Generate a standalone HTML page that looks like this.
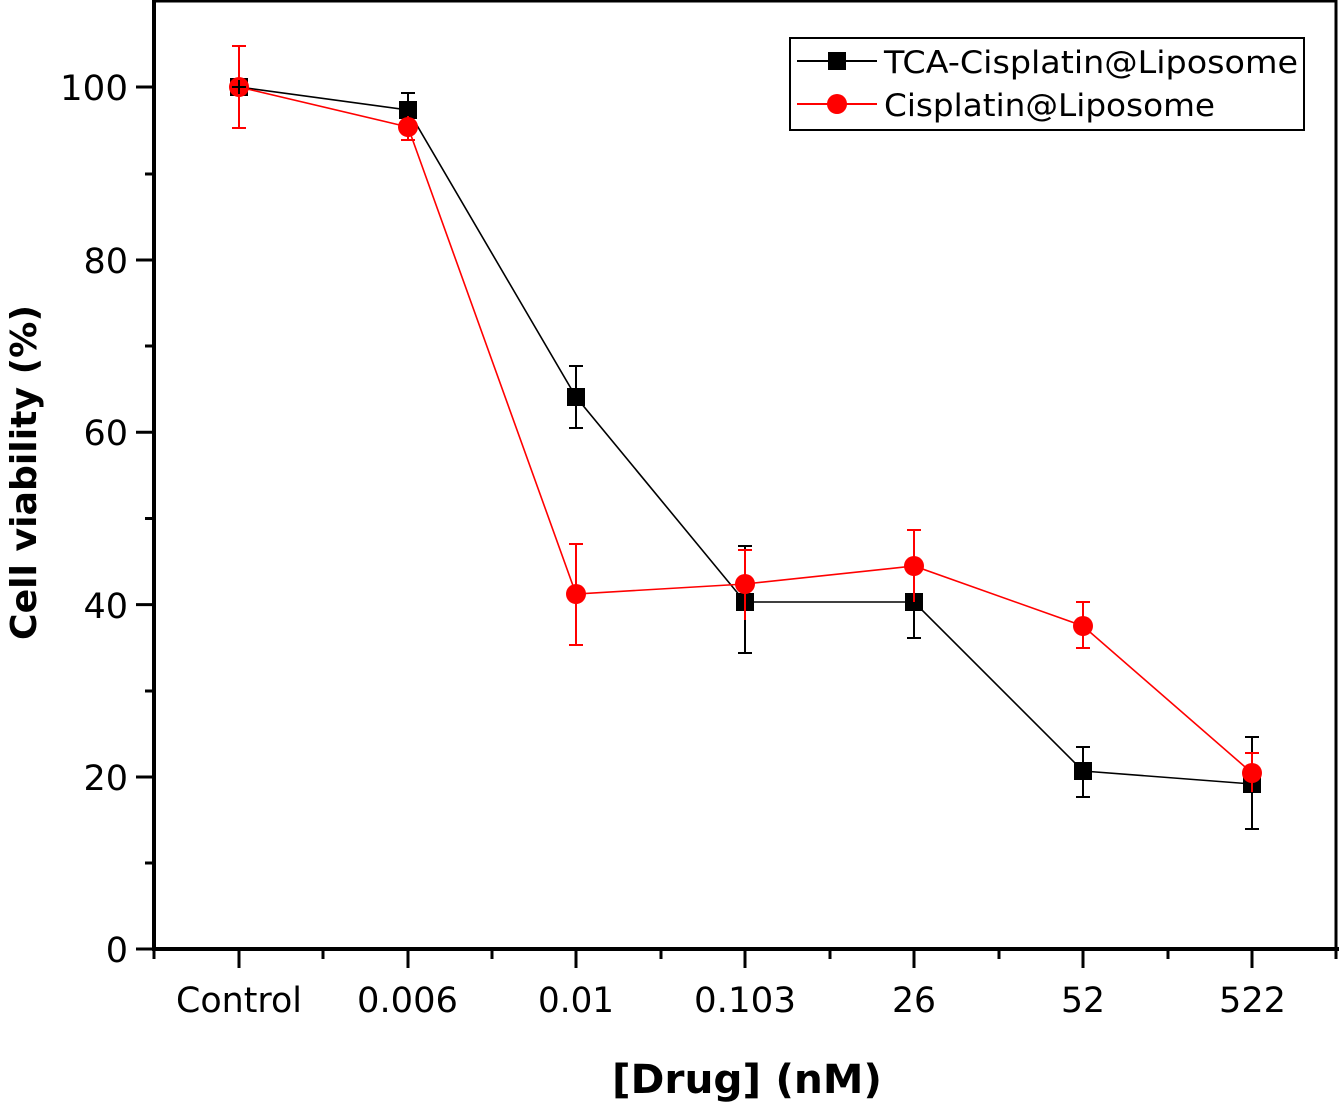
<!DOCTYPE html>
<html><head><meta charset="utf-8"><style>
html,body{margin:0;padding:0;background:#fff;}
svg{display:block;font-family:"DejaVu Sans","Liberation Sans",sans-serif;}
</style></head><body>
<svg width="1339" height="1103" viewBox="0 0 1339 1103" xmlns="http://www.w3.org/2000/svg">
<rect width="1339" height="1103" fill="#fff"/>
<path d="M154,1 H1336 V949" fill="none" stroke="#000" stroke-width="3"/>
<path d="M154,0 V949 H1339" fill="none" stroke="#000" stroke-width="4"/>
<g stroke="#000" stroke-width="3">
<line x1="136" y1="949" x2="154" y2="949"/><line x1="136" y1="777" x2="154" y2="777"/><line x1="136" y1="604.6" x2="154" y2="604.6"/><line x1="136" y1="432.3" x2="154" y2="432.3"/><line x1="136" y1="260" x2="154" y2="260"/><line x1="136" y1="87" x2="154" y2="87"/>
<line x1="145" y1="863" x2="154" y2="863"/><line x1="145" y1="691" x2="154" y2="691"/><line x1="145" y1="518.5" x2="154" y2="518.5"/><line x1="145" y1="346" x2="154" y2="346"/><line x1="145" y1="174" x2="154" y2="174"/>
<line x1="154" y1="949" x2="154" y2="959"/>
<line x1="239" y1="949" x2="239" y2="968"/><line x1="323" y1="949" x2="323" y2="959"/>
<line x1="408" y1="949" x2="408" y2="968"/><line x1="492" y1="949" x2="492" y2="959"/>
<line x1="576" y1="949" x2="576" y2="968"/><line x1="661" y1="949" x2="661" y2="959"/>
<line x1="745" y1="949" x2="745" y2="968"/><line x1="830" y1="949" x2="830" y2="959"/>
<line x1="914" y1="949" x2="914" y2="968"/><line x1="999" y1="949" x2="999" y2="959"/>
<line x1="1083" y1="949" x2="1083" y2="968"/><line x1="1168" y1="949" x2="1168" y2="959"/>
<line x1="1252" y1="949" x2="1252" y2="968"/><line x1="1336" y1="949" x2="1336" y2="959"/>
</g>
<g font-size="35" text-anchor="end" fill="#000">
<text x="128" y="962">0</text><text x="128" y="790">20</text><text x="128" y="618">40</text><text x="128" y="445">60</text><text x="128" y="273">80</text><text x="128" y="100" textLength="68" lengthAdjust="spacingAndGlyphs">100</text>
</g>
<g font-size="35" fill="#000">
<text x="176" y="1012" textLength="126" lengthAdjust="spacingAndGlyphs">Control</text>
<text x="357" y="1012" textLength="101" lengthAdjust="spacingAndGlyphs">0.006</text>
<text x="538" y="1012" textLength="76" lengthAdjust="spacingAndGlyphs">0.01</text>
<text x="694" y="1012" textLength="102" lengthAdjust="spacingAndGlyphs">0.103</text>
<text x="892" y="1012" textLength="44" lengthAdjust="spacingAndGlyphs">26</text>
<text x="1061" y="1012" textLength="44" lengthAdjust="spacingAndGlyphs">52</text>
<text x="1219" y="1012" textLength="67" lengthAdjust="spacingAndGlyphs">522</text>
</g>
<text x="612" y="1093" font-size="40" font-weight="bold" textLength="270" lengthAdjust="spacingAndGlyphs">[Drug] (nM)</text>
<text transform="translate(36,640) rotate(-90)" font-size="36" font-weight="bold" textLength="335" lengthAdjust="spacingAndGlyphs">Cell viability (%)</text>
<polyline fill="none" stroke="#000" stroke-width="1.6" points="239,87 408,110 576,397 745,602 914,602 1083,771 1252,784"/>
<g stroke="#000" stroke-width="2">
<path d="M408,93V128M401,93H415M401,128H415"/>
<path d="M576,366V428M569,366H583M569,428H583"/>
<path d="M745,546V653M738,546H752M738,653H752"/>
<path d="M914,565V638M907,638H921"/>
<path d="M1083,747V797M1076,747H1090M1076,797H1090"/>
<path d="M1252,737V829M1245,737H1259M1245,829H1259"/>
</g>
<g fill="#000">
<rect x="230" y="78" width="18" height="18"/><rect x="399" y="101" width="18" height="18"/><rect x="567" y="388" width="18" height="18"/><rect x="736" y="593" width="18" height="18"/><rect x="905" y="593" width="18" height="18"/><rect x="1074" y="762" width="18" height="18"/><rect x="1243" y="775" width="18" height="18"/>
</g>
<polyline fill="none" stroke="#f00" stroke-width="1.6" points="239,87 408,127 576,594 745,584 914,566 1083,626 1252,773"/>
<g stroke="#f00" stroke-width="2">
<path d="M239,46V128M232,46H246M232,128H246"/>
<path d="M408,116V140M401,140H415"/>
<path d="M576,544V645M569,544H583M569,645H583"/>
<path d="M745,550V620M738,550H752"/>
<path d="M914,530V602M907,530H921"/>
<path d="M1083,602V648M1076,602H1090M1076,648H1090"/>
<path d="M1252,753V792M1245,753H1259"/>
</g>
<g fill="#f00">
<circle cx="239" cy="87" r="10"/><circle cx="408" cy="127" r="10"/><circle cx="576" cy="594" r="10"/><circle cx="745" cy="584" r="10"/><circle cx="914" cy="566" r="10"/><circle cx="1083" cy="626" r="10"/><circle cx="1252" cy="773" r="10"/>
</g>
<g stroke="#000" stroke-width="2"><path d="M232,87H246M239,80V94"/></g>
<rect x="790" y="38" width="514" height="92" fill="#fff" stroke="#000" stroke-width="2"/>
<line x1="797" y1="61" x2="877" y2="61" stroke="#000" stroke-width="2"/>
<rect x="828" y="52" width="18" height="18" fill="#000"/>
<line x1="797" y1="104" x2="877" y2="104" stroke="#f00" stroke-width="2"/>
<circle cx="837" cy="104" r="10" fill="#f00"/>
<text x="884" y="73" font-size="31" textLength="414" lengthAdjust="spacingAndGlyphs">TCA-Cisplatin@Liposome</text>
<text x="884" y="116" font-size="31" textLength="331" lengthAdjust="spacingAndGlyphs">Cisplatin@Liposome</text>
</svg>
</body></html>
